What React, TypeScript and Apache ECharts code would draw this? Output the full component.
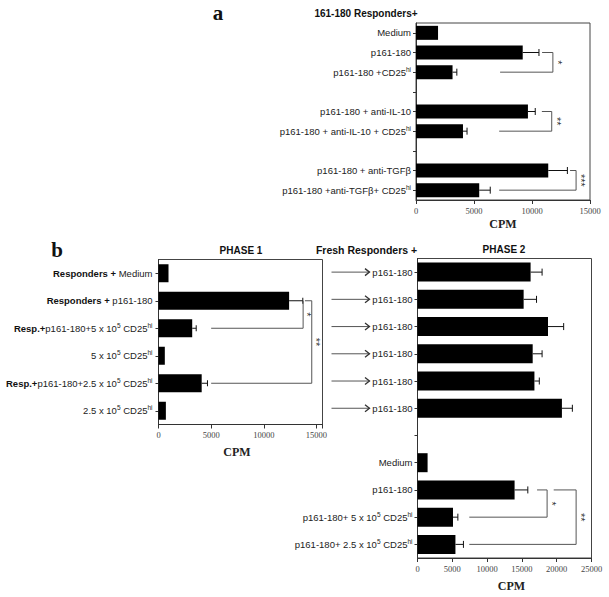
import React, { useEffect, useRef } from 'react';
import * as echarts from 'echarts';

// ---------- Panel a ----------
const aCategories = [
  'Medium',
  'p161-180',
  'p161-180 +CD25^hi',
  ' ',
  'p161-180 + anti-IL-10',
  'p161-180 + anti-IL-10 + CD25^hi',
  '  ',
  'p161-180 + anti-TGFβ',
  'p161-180 +anti-TGFβ+ CD25^hi',
];
const aValues = [1900, 9200, 3150, null, 9650, 4050, null, 11400, 5450];
const aErrors = [null, 1400, 370, null, 630, 350, null, 1650, 950];
const aTicks = [0, 5000, 10000, 15000];
const aBrackets = [
  { from: 1, to: 2, xStart: 10870, xRight: 11800, xLeft: 7250, stars: '*' },
  { from: 4, to: 5, xStart: 10850, xRight: 11700, xLeft: 7170, stars: '**' },
  { from: 7, to: 8, xStart: 13280, xRight: 13800, xLeft: 7170, stars: '***' },
];

// ---------- Panel b, phase 1 ----------
const p1Categories = [
  'Responders + Medium',
  'Responders + p161-180',
  'Resp.+p161-180+5 x 10^5 CD25^hi',
  '5 x 10^5 CD25^hi',
  'Resp.+p161-180+2.5 x 10^5 CD25^hi',
  '2.5 x 10^5 CD25^hi',
];
const p1Values = [950, 12400, 3200, 600, 4100, 700];
const p1Errors = [null, 1300, 380, null, 550, null];
const p1Ticks = [0, 5000, 10000, 15000];
const p1Brackets = [
  { from: 1, to: 2, xStart: 13730, xRight: 13730, xLeft: 5000, stars: '*' },
  { from: 1, to: 4, xStart: 13900, xRight: 14550, xLeft: 5000, stars: '**' },
];

// ---------- Panel b, phase 2 ----------
const p2Categories = [
  'p161-180',
  'p161-180',
  'p161-180',
  'p161-180',
  'p161-180',
  'p161-180',
  ' ',
  'Medium',
  'p161-180',
  'p161-180+ 5 x 10^5 CD25^hi',
  'p161-180+ 2.5 x 10^5 CD25^hi',
];
const p2Values = [16250, 15250, 18750, 16550, 16800, 20750, null, 1450, 13950, 5100, 5450];
const p2Errors = [1650, 1850, 2250, 1350, 700, 1500, null, null, 1900, 700, 1150];
const p2Ticks = [0, 5000, 10000, 15000, 20000, 25000];
const p2Brackets = [
  { from: 8, to: 9, xStart: 17180, xRight: 18620, xLeft: 7440, stars: '*' },
  { from: 8, to: 10, xStart: 19570, xRight: 22790, xLeft: 7440, stars: '**' },
];
const arrowRows = [0, 1, 2, 3, 4, 5];

const SANS = 'Liberation Sans, Arial, Helvetica, sans-serif';
const SERIF = 'Liberation Serif, Times New Roman, serif';

function richLabel(s: string): string {
  const t = s.trim();
  if (!t) return '';
  let out = '';
  let rest = t;
  const m = t.match(/^(Responders \+|Resp\.\+)(.*)$/);
  if (m) {
    out += `{b|${m[1]}}`;
    rest = m[2];
  }
  const parts = rest.split(/\^(\S+)/);
  parts.forEach((p, i) => {
    if (!p) return;
    out += i % 2 ? `{s|${p}}` : `{n|${p}}`;
  });
  return out;
}

const richStyles = {
  n: { fontSize: 9.5, fontFamily: SANS, color: '#222', lineHeight: 13 },
  b: { fontSize: 9.5, fontFamily: SANS, color: '#111', fontWeight: 'bold', lineHeight: 13 },
  s: { fontSize: 6.5, fontFamily: SANS, color: '#222', lineHeight: 7, verticalAlign: 'top' },
};

function xAxisFor(idx: number, max: number, ticks: number[], nameGap: number, namePad: number[]) {
  return {
    type: 'value',
    gridIndex: idx,
    min: 0,
    max,
    interval: 5000,
    axisLine: { show: true, lineStyle: { color: '#333', width: 1 } },
    axisTick: { show: true, length: 4, lineStyle: { color: '#333' } },
    splitLine: { show: false },
    axisLabel: {
      margin: 6,
      fontFamily: SERIF,
      fontSize: 8.5,
      color: '#444',
      formatter: (v: number) => (ticks.indexOf(v) >= 0 ? String(v) : ''),
    },
    name: 'CPM',
    nameLocation: 'middle',
    nameGap,
    nameTextStyle: {
      fontFamily: SERIF,
      fontWeight: 'bold',
      fontSize: 12,
      color: '#222',
      padding: namePad,
    },
  };
}

function yAxisFor(idx: number, cats: string[], margin: number) {
  return {
    type: 'category',
    gridIndex: idx,
    inverse: true,
    data: cats,
    axisLine: { show: true, lineStyle: { color: '#333', width: 1 } },
    axisTick: { show: true, length: 3, alignWithLabel: true, interval: 0, lineStyle: { color: '#333' } },
    axisLabel: {
      interval: 0,
      margin,
      formatter: (v: string) => richLabel(v),
      rich: richStyles,
    },
    splitLine: { show: false },
  };
}

function barSeries(idx: number, values: (number | null)[], barWidth: number) {
  return {
    type: 'bar',
    xAxisIndex: idx,
    yAxisIndex: idx,
    data: values,
    barWidth,
    itemStyle: { color: '#000' },
    silent: true,
    z: 2,
  };
}

function errorSeries(idx: number, values: (number | null)[], errors: (number | null)[], cap: number) {
  const data: number[][] = [];
  values.forEach((v, i) => {
    const e = errors[i];
    if (v != null && e != null) data.push([v, v + e, i]);
  });
  return {
    type: 'custom',
    xAxisIndex: idx,
    yAxisIndex: idx,
    data,
    encode: { x: [0, 1], y: 2 },
    silent: true,
    z: 3,
    renderItem: (params: any, api: any) => {
      const s = api.coord([api.value(0), api.value(2)]);
      const e = api.coord([api.value(1), api.value(2)]);
      return {
        type: 'group',
        children: [
          { type: 'line', shape: { x1: s[0], y1: s[1], x2: e[0], y2: e[1] }, style: { stroke: '#111', lineWidth: 1 } },
          { type: 'line', shape: { x1: e[0], y1: e[1] - cap, x2: e[0], y2: e[1] + cap }, style: { stroke: '#111', lineWidth: 1 } },
        ],
      };
    },
  };
}

function bracketSeries(idx: number, brackets: any[], starOffset: number) {
  return {
    type: 'custom',
    xAxisIndex: idx,
    yAxisIndex: idx,
    data: brackets.map((b) => [b.xLeft, b.from]),
    encode: { x: 0, y: 1 },
    silent: true,
    z: 4,
    renderItem: (params: any, api: any) => {
      const b = brackets[params.dataIndex];
      const p0 = api.coord([b.xStart, b.from]);
      const p1 = api.coord([b.xRight, b.from]);
      const p2 = api.coord([b.xRight, b.to]);
      const p3 = api.coord([b.xLeft, b.to]);
      return {
        type: 'group',
        children: [
          {
            type: 'polyline',
            shape: { points: [p0, p1, p2, p3] },
            style: { stroke: '#555', fill: null, lineWidth: 1 },
          },
          {
            type: 'text',
            x: p1[0] + starOffset,
            y: (p1[1] + p2[1]) / 2,
            rotation: -Math.PI / 2,
            style: {
              text: b.stars,
              fontSize: 11,
              fontFamily: SANS,
              align: 'center',
              verticalAlign: 'middle',
              fill: '#333',
            },
          },
        ],
      };
    },
  };
}

function arrowSeries(idx: number) {
  return {
    type: 'custom',
    xAxisIndex: idx,
    yAxisIndex: idx,
    data: arrowRows.map((r) => [0, r]),
    encode: { x: 0, y: 1 },
    silent: true,
    clip: false,
    renderItem: (params: any, api: any) => {
      const p = api.coord([0, api.value(1)]);
      const x1 = p[0] - 86;
      const x2 = p[0] - 48;
      const y = p[1];
      return {
        type: 'group',
        children: [
          { type: 'line', shape: { x1, y1: y, x2, y2: y }, style: { stroke: '#555', lineWidth: 1 } },
          {
            type: 'polyline',
            shape: { points: [[x2 - 4.5, y - 3.5], [x2, y], [x2 - 4.5, y + 3.5]] },
            style: { stroke: '#333', fill: null, lineWidth: 1.3 },
          },
        ],
      };
    },
  };
}

function textEl(text: string, x: number, y: number, font: any) {
  return {
    type: 'text',
    x,
    y,
    style: {
      text,
      align: 'center',
      verticalAlign: 'middle',
      fill: '#111',
      ...font,
    },
  };
}

export default function App() {
  const ref = useRef<HTMLDivElement>(null);
  useEffect(() => {
    if (!ref.current) return;
    const chart = echarts.init(ref.current, undefined, { renderer: 'svg' });
    const gridStyle = { show: true, borderColor: '#444', borderWidth: 1, backgroundColor: 'transparent', containLabel: false };
    chart.setOption({
      animation: false,
      backgroundColor: '#fff',
      grid: [
        { ...gridStyle, left: 416, top: 23, width: 174, height: 177 },
        { ...gridStyle, left: 158.5, top: 259.5, width: 164, height: 165 },
        { ...gridStyle, left: 417.5, top: 258.5, width: 174, height: 301 },
      ],
      xAxis: [
        xAxisFor(0, 15000, aTicks, 18, [0, 0, 0, 0]),
        xAxisFor(1, 15570, p1Ticks, 21, [0, 7, 0, 0]),
        xAxisFor(2, 25000, p2Ticks, 22, [0, 0, 0, 14]),
      ],
      yAxis: [yAxisFor(0, aCategories, 5), yAxisFor(1, p1Categories, 6), yAxisFor(2, p2Categories, 5)],
      series: [
        barSeries(0, aValues, 14),
        barSeries(1, p1Values, 18),
        barSeries(2, p2Values, 19),
        errorSeries(0, aValues, aErrors, 3.5),
        errorSeries(1, p1Values, p1Errors, 3),
        errorSeries(2, p2Values, p2Errors, 3.5),
        bracketSeries(0, aBrackets, 5),
        bracketSeries(1, p1Brackets, 4),
        bracketSeries(2, p2Brackets, 5),
        arrowSeries(2),
      ],
      graphic: [
        textEl('a', 218, 13, { fontFamily: SERIF, fontWeight: 'bold', fontSize: 21 }),
        textEl('161-180 Responders+', 366, 13, { fontFamily: SANS, fontWeight: 'bold', fontSize: 10 }),
        textEl('b', 57, 250, { fontFamily: SERIF, fontWeight: 'bold', fontSize: 21 }),
        textEl('PHASE 1', 241, 250, { fontFamily: SANS, fontWeight: 'bold', fontSize: 10 }),
        textEl('Fresh Responders +', 366.5, 250, { fontFamily: SANS, fontWeight: 'bold', fontSize: 10.5 }),
        textEl('PHASE 2', 504, 249.5, { fontFamily: SANS, fontWeight: 'bold', fontSize: 10 }),
      ],
    });
    return () => chart.dispose();
  }, []);
  return <div ref={ref} style={{ position: 'absolute', left: 0, top: 0, width: 609, height: 597 }} />;
}
